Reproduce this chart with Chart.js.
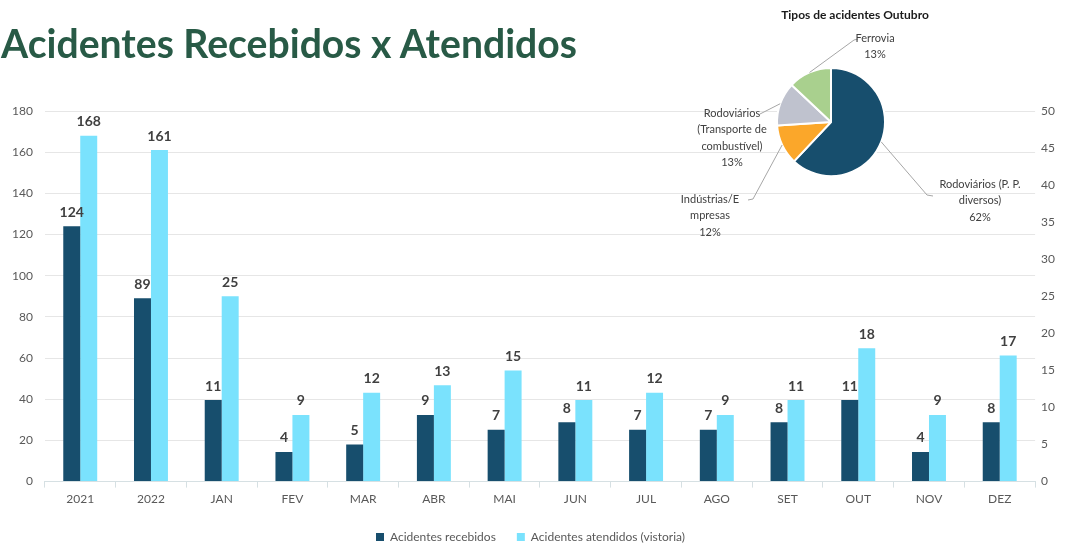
<!DOCTYPE html>
<html>
<head>
<meta charset="utf-8">
<script src="https://cdn.jsdelivr.net/npm/chart.js@4.4.1/dist/chart.umd.min.js"></script>
<style>
  html, body { margin: 0; padding: 0; background: #ffffff; }
  #wrap { position: relative; width: 1069px; height: 547px; overflow: hidden; }
  #title {
    position: absolute; left: 1px; top: 18px;
    font: bold 41px Lato, sans-serif; color: #285a46;
    white-space: nowrap; transform-origin: 0 0; line-height: normal;
  }
  #main { position: absolute; left: 0; top: 0; }
  #pie { position: absolute; left: 660px; top: 0; }
  #pieTitle {
    position: absolute; left: 705px; top: 7px; width: 300px; text-align: center;
    font: bold 12px Lato, sans-serif; color: #1a1a1a; white-space: nowrap;
  }
</style>
</head>
<body>
<div id="wrap">
  <canvas id="main" width="1069" height="547"></canvas>
  <div id="title">Acidentes Recebidos x Atendidos</div>
  <canvas id="pie" width="409" height="250"></canvas>
  <div id="pieTitle">Tipos de acidentes Outubro</div>
</div>
<script>
// ---- Data ----
const years = ['2021', '2022'];
const months = ['JAN', 'FEV', 'MAR', 'ABR', 'MAI', 'JUN', 'JUL', 'AGO', 'SET', 'OUT', 'NOV', 'DEZ'];

const yearReceived = [124, 89];
const yearAttended = [168, 161];
const monthReceived = [11, 4, 5, 9, 7, 8, 7, 7, 8, 11, 4, 8];
const monthAttended = [25, 9, 12, 13, 15, 11, 12, 9, 11, 18, 9, 17];

const seriesNames = ['Acidentes recebidos', 'Acidentes atendidos (vistoria)'];

const leftAxis = { min: 0, max: 180, step: 20 };   // yearly totals
const rightAxis = { min: 0, max: 50, step: 5 };    // monthly counts

const pieLabels = [
  ['Rodoviários (P. P.', 'diversos)'],
  ['Indústrias/E', 'mpresas'],
  ['Rodoviários', '(Transporte de', 'combustível)'],
  ['Ferrovia']
];
const pieShares = [62, 12, 13, 13];

// ---- Styling ----
const FONT = 'Lato, "Open Sans", sans-serif';
const DARK = '#174e6d';
const LIGHT = '#7ae2fd';
const PIE_COLORS = [DARK, '#fba72a', '#bfc2ce', '#a9d08e'];
const AXIS_TEXT = '#595959';
const LABEL_TEXT = '#404040';

// Fit the heading to its line width
(function () {
  const t = document.getElementById('title');
  const w = t.getBoundingClientRect().width;
  t.style.transform = 'scaleX(' + (576 / w) + ')';
})();

// Yearly bars sit on the left axis, monthly bars on the right axis.
const nulls = n => Array(n).fill(null);
const categories = years.concat(months);
const dsYearRec = yearReceived.concat(nulls(months.length));
const dsYearAtt = yearAttended.concat(nulls(months.length));
const dsMonRec = nulls(years.length).concat(monthReceived);
const dsMonAtt = nulls(years.length).concat(monthAttended);

const barCommon = { categoryPercentage: 0.48, barPercentage: 1.0, skipNull: true, borderWidth: 0 };

// Value labels above each bar
const barValueLabels = {
  id: 'barValueLabels',
  afterDatasetsDraw(chart) {
    const ctx = chart.ctx;
    ctx.save();
    ctx.font = 'bold 14px ' + FONT;
    ctx.fillStyle = LABEL_TEXT;
    ctx.textAlign = 'center';
    ctx.textBaseline = 'middle';
    chart.data.datasets.forEach((ds, i) => {
      const meta = chart.getDatasetMeta(i);
      meta.data.forEach((el, j) => {
        const v = ds.data[j];
        if (v === null || v === undefined) return;
        ctx.fillText(String(v), el.x, el.y - 14);
      });
    });
    ctx.restore();
  }
};

// Compact legend block at the bottom
const legendHeight = {
  id: 'legendHeight',
  afterInit(chart) {
    const lg = chart.legend;
    if (!lg) return;
    const fit = lg.fit.bind(lg);
    lg.fit = function () { fit(); this.height = 37; };
  }
};

new Chart(document.getElementById('main'), {
  type: 'bar',
  data: {
    labels: categories,
    datasets: [
      Object.assign({ label: seriesNames[0], data: dsYearRec, backgroundColor: DARK, yAxisID: 'y' }, barCommon),
      Object.assign({ label: seriesNames[1], data: dsYearAtt, backgroundColor: LIGHT, yAxisID: 'y' }, barCommon),
      Object.assign({ label: seriesNames[0], data: dsMonRec, backgroundColor: DARK, yAxisID: 'y1' }, barCommon),
      Object.assign({ label: seriesNames[1], data: dsMonAtt, backgroundColor: LIGHT, yAxisID: 'y1' }, barCommon)
    ]
  },
  options: {
    responsive: false,
    animation: false,
    layout: { padding: { left: 0, right: 8, top: 111, bottom: 0 } },
    plugins: {
      legend: {
        position: 'bottom',
        labels: {
          filter: item => item.datasetIndex < 2,
          boxWidth: 8, boxHeight: 8, padding: 21,
          color: AXIS_TEXT, font: { size: 12, family: FONT }
        }
      },
      tooltip: { enabled: false }
    },
    scales: {
      x: {
        grid: { drawOnChartArea: false, drawTicks: true, tickLength: 6, color: '#d6e0e3' },
        border: { color: '#d6e0e3' },
        ticks: { color: AXIS_TEXT, font: { size: 12, family: FONT }, padding: 4 }
      },
      y: {
        position: 'left',
        min: leftAxis.min, max: leftAxis.max,
        ticks: { stepSize: leftAxis.step, color: AXIS_TEXT, font: { size: 12, family: FONT }, padding: 12 },
        grid: { color: '#e6e6e6', drawTicks: false },
        border: { display: false }
      },
      y1: {
        position: 'right',
        min: rightAxis.min, max: rightAxis.max,
        ticks: { stepSize: rightAxis.step, color: AXIS_TEXT, font: { size: 12, family: FONT }, padding: 6 },
        grid: { drawOnChartArea: false, drawTicks: false },
        border: { display: false }
      }
    }
  },
  plugins: [barValueLabels, legendHeight]
});

// ---- Pie: accident types ----
// Label placement: text centre x, first line y, and leader end point (canvas-local px)
const pieLabelPlacement = [
  { x: 320, y: 184, lead: [[267, 195], [273, 196]] },
  { x: 50,  y: 199, lead: [[93, 199], [88, 200]] },
  { x: 72,  y: 113, lead: [[100, 114]] },
  { x: 215, y: 38,  lead: [[194, 40], [198, 39]] }
];

const pieCallouts = {
  id: 'pieCallouts',
  afterDatasetsDraw(chart) {
    const ctx = chart.ctx;
    const meta = chart.getDatasetMeta(0);
    const total = pieShares.reduce((a, b) => a + b, 0);
    ctx.save();
    meta.data.forEach((arc, i) => {
      const p = arc.getProps(['x', 'y', 'startAngle', 'endAngle', 'outerRadius'], true);
      const mid = (p.startAngle + p.endAngle) / 2;
      const ax = p.x + Math.cos(mid) * p.outerRadius;
      const ay = p.y + Math.sin(mid) * p.outerRadius;
      const place = pieLabelPlacement[i];
      ctx.strokeStyle = '#a6a6a6';
      ctx.lineWidth = 1;
      ctx.beginPath();
      ctx.moveTo(ax, ay);
      place.lead.forEach(pt => ctx.lineTo(pt[0], pt[1]));
      ctx.stroke();
      ctx.fillStyle = LABEL_TEXT;
      ctx.font = '11px ' + FONT;
      ctx.textAlign = 'center';
      ctx.textBaseline = 'middle';
      const lines = pieLabels[i].concat([Math.round(pieShares[i] / total * 100) + '%']);
      lines.forEach((ln, k) => ctx.fillText(ln, place.x, place.y + k * 16.5));
    });
    ctx.restore();
  }
};

new Chart(document.getElementById('pie'), {
  type: 'pie',
  data: {
    labels: pieLabels.map(l => l.join(' ')),
    datasets: [{
      data: pieShares,
      backgroundColor: PIE_COLORS,
      borderColor: '#ffffff',
      borderWidth: 2
    }]
  },
  options: {
    responsive: false,
    animation: false,
    layout: { padding: { left: 116, right: 183, top: 67, bottom: 73 } },
    plugins: { legend: { display: false }, tooltip: { enabled: false } }
  },
  plugins: [pieCallouts]
});
</script>
</body>
</html>
